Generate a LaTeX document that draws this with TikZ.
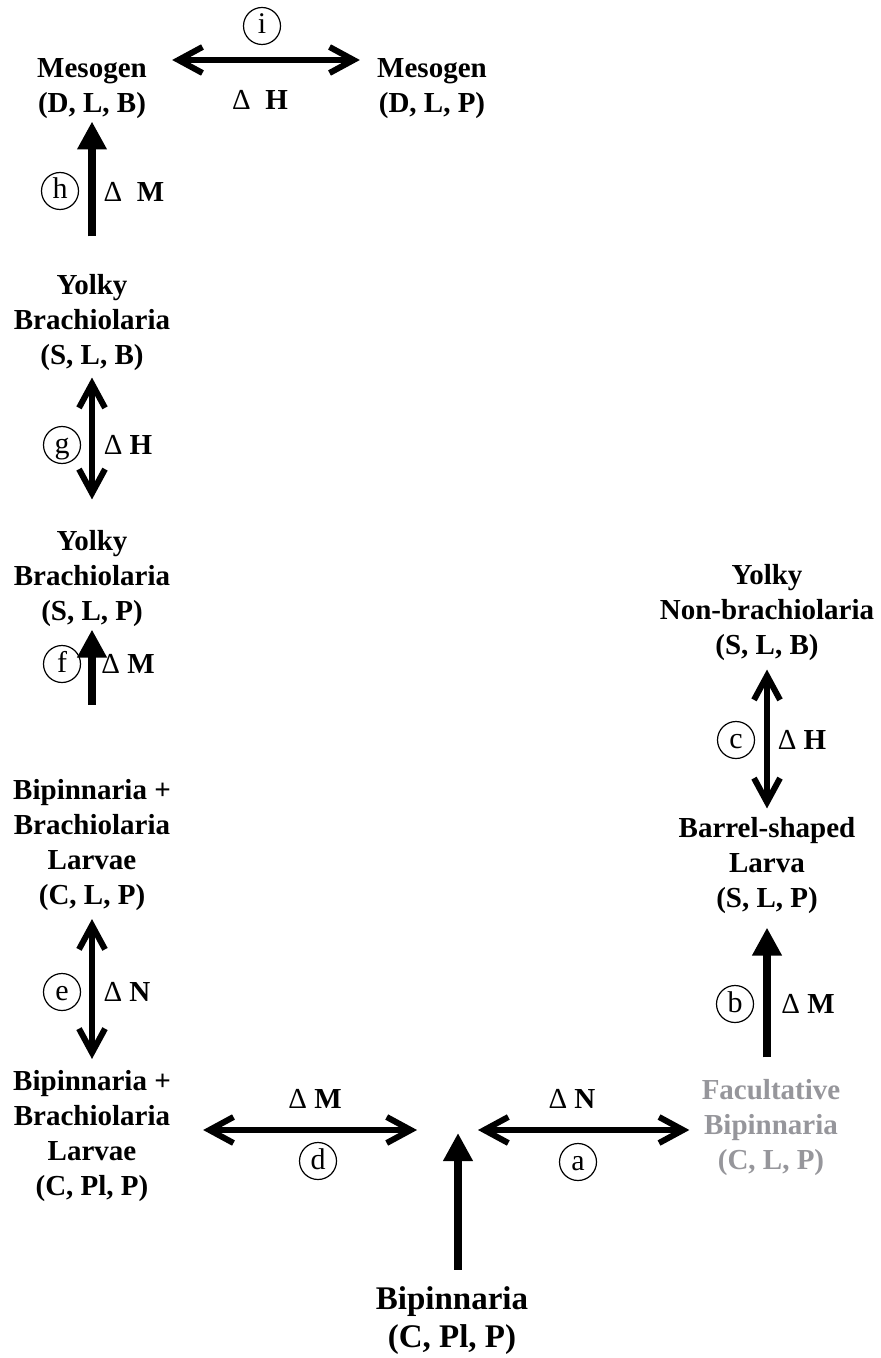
\documentclass[tikz,border=0pt]{standalone}
\usepackage{fontspec}
\setmainfont{Liberation Serif}
\usetikzlibrary{arrows.meta,calc}
\definecolor{facgray}{RGB}{150,150,155}

\begin{document}
\begin{tikzpicture}[
  x=0.5pt, y=-0.5pt,
  stage/.style={align=center, inner sep=0pt, font=\fontsize{14.5}{17.5}\selectfont\bfseries},
  tag/.style={draw, circle, line width=0.6pt, minimum size=18.5pt, inner sep=0pt, text height=9pt, text depth=1pt, font=\fontsize{15}{17}\selectfont},
  delta/.style={inner sep=0pt, font=\fontsize{14.5}{17}\selectfont},
  twoway/.style={{Straight Barb[length=12pt,width=13pt]}-{Straight Barb[length=12pt,width=13pt]}, line width=3pt},
  oneway/.style={-{Triangle[length=14pt,width=14pt]}, line width=4pt}
]
\useasboundingbox (0,0) rectangle (880,1358);

% life-history stages
\node[stage] (mesoB) at (92,89) {Mesogen\\(D, L, B)};
\node[stage] (mesoP) at (432,89) {Mesogen\\(D, L, P)};
\node[stage] (yolkyB) at (92,323) {Yolky\\Brachiolaria\\(S, L, B)};
\node[stage] (yolkyP) at (92,579) {Yolky\\Brachiolaria\\(S, L, P)};
\node[stage] (bbL) at (92,845) {Bipinnaria +\\Brachiolaria\\Larvae\\(C, L, P)};
\node[stage] (bbPl) at (92,1136) {Bipinnaria +\\Brachiolaria\\Larvae\\(C, Pl, P)};
\node[stage, font=\fontsize{16.5}{19}\selectfont\bfseries] (bip) at (452,1321) {Bipinnaria\\(C, Pl, P)};
\node[stage, text=facgray] (fac) at (771,1128) {Facultative\\Bipinnaria\\(C, L, P)};
\node[stage] (barrel) at (767,866) {Barrel-shaped\\Larva\\(S, L, P)};
\node[stage] (yolkyNB) at (767,613) {Yolky\\Non-brachiolaria\\(S, L, B)};
\coordinate (hub) at (458,1130);

% transitions
\draw[twoway] ($(mesoB.east)+(25,-29)$) -- ($(mesoP.west)+(-17,-29)$);
\draw[oneway, shorten <=19pt, shorten >=1pt] (yolkyB.north) -- (mesoB.south);
\draw[twoway, shorten <=3pt, shorten >=15.5pt] (yolkyB.south) -- (yolkyP.north);
\draw[oneway, shorten <=37pt, shorten >=1pt] (bbL.north) -- (yolkyP.south);
\draw[twoway, shorten <=4pt, shorten >=5.5pt] (bbL.south) -- (bbPl.north);
\draw[twoway, shorten <=16pt, shorten >=20.5pt] (bbPl.east |- hub) -- (hub);
\draw[oneway, shorten <=8.5pt, shorten >=1.5pt] (bip.north -| hub) -- (hub);
\draw[twoway, shorten <=10pt, shorten >=6pt] (hub) -- (hub -| fac.west);
\draw[oneway, shorten <=11pt, shorten >=6.5pt] (barrel.south |- fac.north) -- (barrel.south);
\draw[twoway, shorten <=4.5pt, shorten >=4pt] (barrel.north) -- (yolkyNB.south);

% labels
\node[tag] (ti) at (262,26) {i};
\node[delta] (di) at (260,100) {Δ\ \ \textbf{H}};
\node[tag] (th) at (60,191) {h};
\node[delta] (dh) at (134,192) {Δ\ \ \textbf{M}};
\node[tag] (tg) at (62,445) {g};
\node[delta] (dg) at (128,445) {Δ \textbf{H}};
\node[tag] (tf) at (62,664) {f};
\node[delta] (df) at (128,664) {Δ \textbf{M}};
\node[tag] (te) at (62,992) {e};
\node[delta] (de) at (127,992) {Δ \textbf{N}};
\node[delta] (dd) at (315,1099) {Δ \textbf{M}};
\node[tag] (td) at (318,1161) {d};
\node[delta] (da) at (572,1099) {Δ \textbf{N}};
\node[tag] (ta) at (578,1162) {a};
\node[tag] (tc) at (736,740) {c};
\node[delta] (dc) at (802,740) {Δ \textbf{H}};
\node[tag] (tb) at (735,1004) {b};
\node[delta] (db) at (808,1004) {Δ \textbf{M}};
\end{tikzpicture}
\end{document}
